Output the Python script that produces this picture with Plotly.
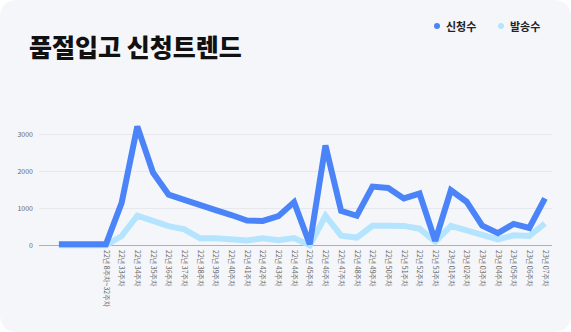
import plotly.graph_objects as go

W, H = 571, 332
FONT = "Noto Sans CJK KR"

# Data
categories = ["", "", "",
              "22년 8주차~32주차", "22년 33주차", "22년 34주차", "22년 35주차", "22년 36주차",
              "22년 37주차", "22년 38주차", "22년 39주차", "22년 40주차", "22년 41주차",
              "22년 42주차", "22년 43주차", "22년 44주차", "22년 45주차", "22년 46주차",
              "22년 47주차", "22년 48주차", "22년 49주차", "22년 50주차", "22년 51주차",
              "22년 52주차", "22년 53주차", "23년 01주차", "23년 02주차", "23년 03주차",
              "23년 04주차", "23년 05주차", "23년 06주차", "23년 07주차"]
requests = [30, 30, 30,
            30, 1150, 3220, 1970, 1370, 1230, 1070, 950, 820, 670, 660, 790, 1170,
            30, 2700, 930, 800, 1590, 1550, 1270, 1400, 120, 1490, 1180, 530, 330,
            580, 470, 1270]
shipped = [0, 0, 0,
           0, 250, 800, 660, 520, 430, 190, 190, 165, 130, 190, 140, 195,
           0, 800, 260, 210, 530, 530, 525, 450, 100, 525, 410, 300, 160,
           270, 250, 590]
series_names = ["신청수", "발송수"]
series_colors = ["#4a84f8", "#b5e4ff"]
y_ticks = [0, 1000, 2000, 3000]

# Layout geometry (pixels)
L, R, T, B = 39, 19, 116, 83
pw, ph = W - L - R, H - T - B

def px_to_paper(px, py):
    return (px - L) / pw, (H - B - py) / ph

x_idx = list(range(len(categories)))

fig = go.Figure()
fig.add_trace(go.Scatter(x=x_idx, y=shipped, mode="lines", name=series_names[1],
                         line=dict(color=series_colors[1], width=6), showlegend=False,
                         hoverinfo="skip"))
fig.add_trace(go.Scatter(x=x_idx, y=requests, mode="lines", name=series_names[0],
                         line=dict(color=series_colors[0], width=6), showlegend=False,
                         hoverinfo="skip"))

def P(px, py):
    x, y = px_to_paper(px, py)
    return f"{x:.5f},{y:.5f}"

# rounded card background
r = 18
path = (f"M {P(r,0)} L {P(W-r,0)} Q {P(W,0)} {P(W,r)} L {P(W,H-r)} Q {P(W,H)} {P(W-r,H)} "
        f"L {P(r,H)} Q {P(0,H)} {P(0,H-r)} L {P(0,r)} Q {P(0,0)} {P(r,0)} Z")
shapes = [dict(type="path", path=path, xref="paper", yref="paper", layer="below",
               fillcolor="#f5f6fa", line=dict(width=0))]

annotations = []
# title
tx, ty = px_to_paper(27, 46)
annotations.append(dict(text="품절입고 신청트렌드", x=tx, y=ty, xref="paper", yref="paper",
                        xanchor="left", yanchor="middle", showarrow=False,
                        font=dict(family=FONT, size=25, color="#111111", weight=900)))

# legend: dots + text
legend_pos = [(437, 26), (501, 26)]
for (dx, dy), name, col in zip(legend_pos, series_names, series_colors):
    ax, ay = px_to_paper(dx, dy)
    shapes.append(dict(type="circle", xref="paper", yref="paper", xsizemode="pixel",
                       ysizemode="pixel", xanchor=ax, yanchor=ay, x0=-3, x1=3, y0=-3, y1=3,
                       fillcolor=col, line=dict(width=0)))
    lx, ly = px_to_paper(dx + 7, dy)
    annotations.append(dict(text=name, x=lx, y=ly, xref="paper", yref="paper",
                            xanchor="left", yanchor="middle", showarrow=False,
                            font=dict(family=FONT, size=11, color="#222222", weight=700)))

fig.update_layout(
    width=W, height=H,
    margin=dict(l=L, r=R, t=T, b=B, pad=0),
    paper_bgcolor="#ffffff", plot_bgcolor="rgba(0,0,0,0)",
    font=dict(family=FONT),
    shapes=shapes, annotations=annotations,
    showlegend=False,
)
fig.update_xaxes(range=[-1.27, len(categories) - 1 + 0.45], tickmode="array",
                 tickvals=x_idx, ticktext=categories, tickangle=90,
                 tickfont=dict(family=FONT, size=7, color="#666666"),
                 showgrid=False, zeroline=False, showline=False, ticks="")
fig.update_yaxes(range=[-100, 3500], tickvals=y_ticks,
                 tickfont=dict(family=FONT, size=7, color="#666666"),
                 showgrid=True, gridcolor="#e6e8ee", gridwidth=1,
                 zeroline=True, zerolinecolor="#b0b0b0", zerolinewidth=1,
                 showline=False, ticks="", ticklabelstandoff=5)

fig.write_html("out.html", config={"displayModeBar": False})
